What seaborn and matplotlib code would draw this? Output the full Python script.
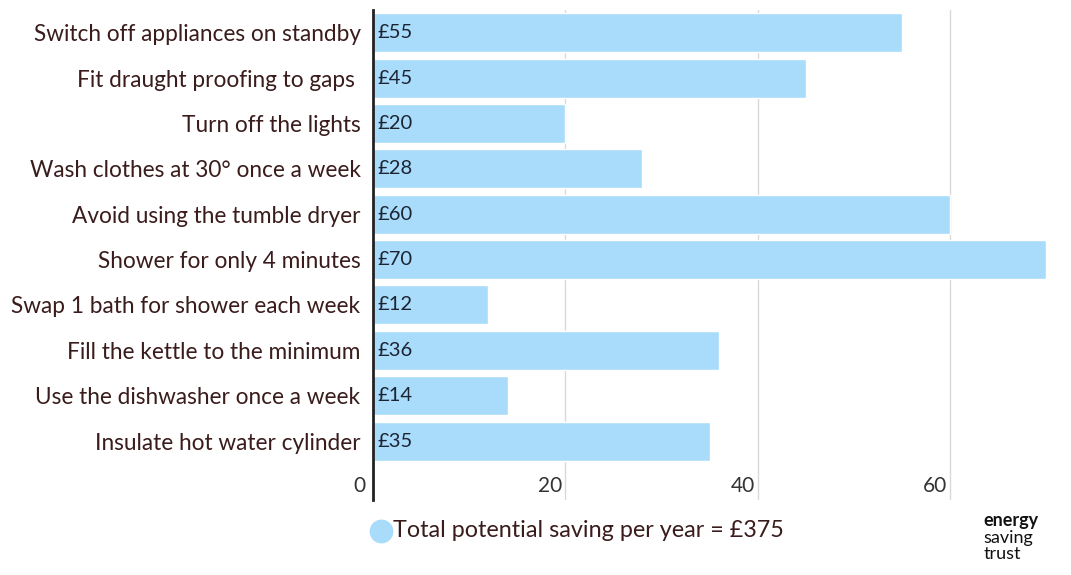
import matplotlib
matplotlib.use("Agg")
import matplotlib.pyplot as plt
import seaborn as sns
import pandas as pd

# data
actions = [
    "Switch off appliances on standby",
    "Fit draught proofing to gaps ",
    "Turn off the lights",
    "Wash clothes at 30\u00b0 once a week",
    "Avoid using the tumble dryer",
    "Shower for only 4 minutes",
    "Swap 1 bath for shower each week",
    "Fill the kettle to the minimum",
    "Use the dishwasher once a week",
    "Insulate hot water cylinder",
]
savings = [55, 45, 20, 28, 60, 70, 12, 36, 14, 35]
x_ticks = [0, 20, 40, 60]
legend_label = "Total potential saving per year = \u00a3375"

BAR_BLUE = "#a9dbfb"
TEXT_BROWN = "#3a1c1c"
VALUE_NAVY = "#1c2433"

sns.set_theme(style="white")
plt.rcParams["font.family"] = ["Lato", "DejaVu Sans"]

df = pd.DataFrame({"action": actions, "saving": savings})

fig = plt.figure(figsize=(10.71, 5.75), dpi=100)
ax = fig.add_axes([373 / 1071, 75 / 575, 673 / 1071, 490 / 575])

for t in x_ticks[1:]:
    ax.axvline(t, color="#d9d9d9", lw=1, zorder=0)

sns.barplot(data=df, y="action", x="saving", orient="h", color=BAR_BLUE,
            width=0.86, saturation=1, ax=ax, zorder=2)

for i, v in enumerate(savings):
    ax.text(0.5, i, f"\u00a3{v}", va="center", ha="left", fontsize=14.5,
            color=VALUE_NAVY, zorder=3)

ax.set_xlim(0, 70)
ax.set_ylim(10.3, -0.5)
ax.set_xlabel("")
ax.set_ylabel("")
ax.set_xticks([])
ax.tick_params(axis="y", length=0, pad=9, labelsize=16.3, labelcolor=TEXT_BROWN)

# x tick labels sit just left of each gridline, on a row below the bars
for t in x_ticks:
    ax.text(t - 0.3 if t else -0.8, 10.0, str(t), ha="right", va="center",
            fontsize=15, color="#333333")

for s in ["top", "right", "bottom"]:
    ax.spines[s].set_visible(False)
ax.spines["left"].set_color("#222222")
ax.spines["left"].set_linewidth(2)

# legend line
ax.scatter([0.85], [10.98], s=260, color=BAR_BLUE, clip_on=False, zorder=3)
ax.text(2.1, 10.98, legend_label, ha="left", va="center", fontsize=16.8,
        color=TEXT_BROWN, clip_on=False)

# logo text
fig.text(0.918, 0.094, "energy", ha="left", va="center", fontsize=13,
         fontweight="bold", color="#111111")
fig.text(0.918, 0.065, "saving", ha="left", va="center", fontsize=13,
         color="#111111")
fig.text(0.918, 0.036, "trust", ha="left", va="center", fontsize=13,
         color="#111111")

fig.savefig("out.png", dpi=100)
